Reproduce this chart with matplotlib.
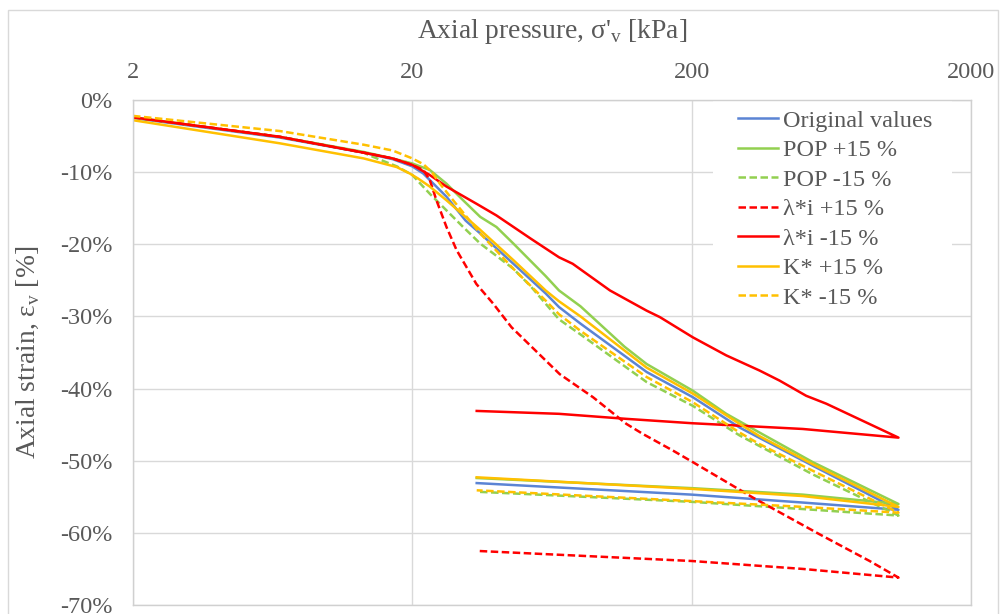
import matplotlib
matplotlib.use("Agg")
import matplotlib.pyplot as plt
from matplotlib.patches import Rectangle

# data: loading path then unloading path (pressure kPa, axial strain %)
orig_p = [2, 6.7, 13.4, 17, 20, 21.9, 23.1, 26.5, 31, 35, 46, 60, 67, 80, 138, 202, 297, 543, 1100, 500, 200, 34]
orig_eps = [-2.5, -5.2, -7.3, -8.2, -9.2, -10.2, -11.1, -13.4, -16.7, -18.5, -22.7, -26.8, -28.7, -31.0, -37.7, -41.2, -45.4, -50.7, -56.8, -55.8, -54.7, -53.1]

pop_plus_p = [2, 6.7, 13.4, 17, 20, 23.1, 26.5, 30.4, 35, 40, 46, 60, 67, 80, 115, 138, 202, 266, 350, 543, 1100, 500, 200, 34]
pop_plus_eps = [-2.4, -5.1, -7.2, -8.1, -8.8, -9.7, -11.6, -13.9, -16.2, -17.6, -19.9, -24.4, -26.4, -28.6, -34.2, -36.6, -40.3, -43.5, -46.1, -50.2, -56.0, -54.7, -53.8, -52.4]

pop_minus_p = [2, 6.7, 13.4, 14.5, 17.6, 20, 23.1, 26.5, 30.4, 35, 40, 46, 53, 67, 80, 138, 202, 297, 543, 1100, 500, 200, 34]
pop_minus_eps = [-2.4, -5.1, -7.3, -7.9, -9.2, -10.4, -13.0, -15.3, -17.6, -19.9, -21.6, -23.4, -25.8, -30.4, -32.5, -39.1, -42.4, -46.5, -51.9, -57.6, -56.7, -55.7, -54.3]

lam_plus_p = [2, 6.7, 13.4, 17, 20, 21.9, 23.1, 24.4, 26.5, 28.8, 33.9, 38.9, 45.3, 67.4, 88.7, 116.8, 133.9, 171.5, 202, 331, 574, 867, 1100, 500, 200, 34]
lam_plus_eps = [-2.4, -5.1, -7.3, -8.1, -9.0, -9.7, -11.1, -13.9, -17.6, -20.8, -25.5, -28.2, -31.5, -38.0, -41.2, -44.9, -46.3, -48.6, -50.2, -55.1, -60.2, -63.9, -66.2, -65.0, -63.9, -62.5]

lam_minus_p = [2, 6.7, 13.4, 17, 20, 23.1, 26.5, 34, 40, 53, 67, 75, 102, 138, 154, 202, 266, 350, 413, 514, 607, 1100, 500, 200, 117, 67, 34]
lam_minus_eps = [-2.4, -5.1, -7.3, -8.1, -9.0, -10.4, -12.0, -14.4, -16.0, -19.2, -21.8, -22.7, -26.4, -29.2, -30.1, -32.9, -35.4, -37.5, -38.9, -41.0, -42.1, -46.8, -45.6, -44.8, -44.2, -43.5, -43.1]

k_plus_p = [2, 6.7, 13.4, 17.6, 19.6, 21, 23.1, 26.5, 35, 46, 60, 67, 80, 138, 202, 297, 350, 543, 1100, 500, 200, 34]
k_plus_eps = [-2.8, -6.0, -8.1, -9.3, -10.2, -10.9, -12.0, -13.9, -18.0, -22.2, -26.4, -27.9, -30.0, -37.1, -40.7, -44.9, -46.6, -50.5, -56.4, -54.9, -53.9, -52.3]

k_minus_p = [2, 6.7, 13.4, 17, 20, 21.9, 23.5, 25.1, 28, 35, 46, 60, 67, 80, 138, 202, 297, 350, 543, 1100, 500, 200, 34]
k_minus_eps = [-2.2, -4.3, -6.2, -7.0, -8.1, -8.9, -10.0, -11.6, -13.9, -18.5, -23.4, -27.8, -29.7, -32.0, -38.4, -41.9, -46.1, -47.7, -51.4, -57.2, -56.4, -55.6, -54.1]

series = [
    ("Original values", orig_p, orig_eps, "#5B84D4", "-"),
    ("POP +15 %", pop_plus_p, pop_plus_eps, "#92D050", "-"),
    ("POP -15 %", pop_minus_p, pop_minus_eps, "#92D050", "--"),
    ("λ*i +15 %", lam_plus_p, lam_plus_eps, "#FF0000", "--"),
    ("λ*i -15 %", lam_minus_p, lam_minus_eps, "#FF0000", "-"),
    ("K* +15 %", k_plus_p, k_plus_eps, "#FFC000", "-"),
    ("K* -15 %", k_minus_p, k_minus_eps, "#FFC000", "--"),
]

x_ticks = [2, 20, 200, 2000]
y_ticks = [0, -10, -20, -30, -40, -50, -60, -70]

plt.rcParams["font.family"] = ["Liberation Serif", "DejaVu Serif"]
plt.rcParams["mathtext.fontset"] = "custom"
plt.rcParams["mathtext.rm"] = "Liberation Serif"
text_col = "#595959"
fs = 17.5      # ticks and legend
fs_title = 19.8  # axis titles

fig = plt.figure(figsize=(10.03, 6.14), dpi=100)
ax = fig.add_axes([133 / 1003, 9 / 614, 838 / 1003, 505 / 614])

# outer chart border
fig.patches.append(Rectangle((8 / 1003, -0.05), 990 / 1003, 1.05 - 10 / 614,
                             transform=fig.transFigure, fill=False,
                             edgecolor="#d9d9d9", lw=1))

for name, p, eps, col, ls in series:
    if ls == "--":
        ax.plot(p, eps, color=col, lw=1.8, linestyle=(0, (3, 1.4)), label=name)
    else:
        ax.plot(p, eps, color=col, lw=1.8, label=name, solid_joinstyle="round")

ax.set_xscale("log")
ax.set_xlim(2, 2000)
ax.set_ylim(-70, 0)
ax.xaxis.tick_top()
ax.xaxis.set_label_position("top")
ax.set_xticks(x_ticks)
ax.set_xticklabels([str(t) for t in x_ticks])
ax.xaxis.set_minor_locator(matplotlib.ticker.NullLocator())
ax.set_yticks(y_ticks)
ax.set_yticklabels([f"{t}%" for t in y_ticks])
ax.tick_params(length=0, labelsize=fs, labelcolor=text_col)
ax.tick_params(axis="x", pad=12)
ax.tick_params(axis="y", pad=15)

ax.set_xlabel("Axial pressure, σ'$_\\mathregular{v}$ [kPa]", fontsize=fs_title, color=text_col, labelpad=17.5)
ax.set_ylabel("Axial strain, ε$_\\mathregular{v}$ [%]", fontsize=fs_title, color=text_col, labelpad=12.5)

ax.grid(True, color="#d9d9d9", lw=1)
ax.set_axisbelow(True)
for s in ax.spines.values():
    s.set_color("#d0d0d0")
    s.set_linewidth(1)

# white patch behind the legend (hides gridlines)
ax.add_patch(Rectangle(((713 - 133) / 838, (605 - 312) / 505), 239 / 838, 1 - (605 - 312) / 505,
                       transform=ax.transAxes, facecolor="white", edgecolor="none", zorder=1))

leg = ax.legend(loc="upper left", bbox_to_anchor=((738 - 9.7) / 1003, 1 - 99.8 / 614),
                bbox_transform=fig.transFigure, borderaxespad=0, frameon=False,
                fontsize=fs, handlelength=1.65, handletextpad=0.2, labelspacing=0.31)
for t in leg.get_texts():
    t.set_color(text_col)

fig.savefig("out.png", dpi=100)
